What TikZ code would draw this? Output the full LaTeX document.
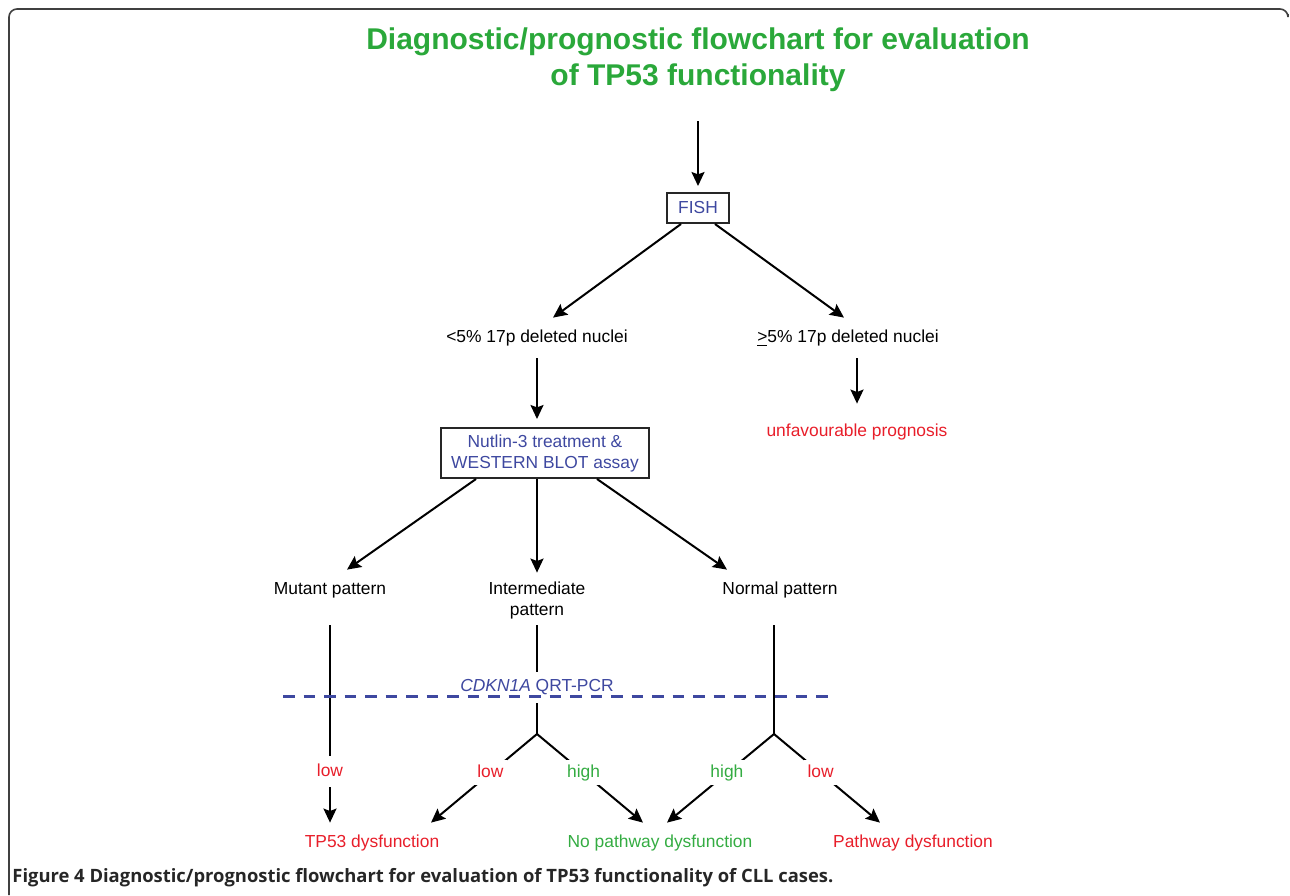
\documentclass[tikz,border=0pt]{standalone}
\usepackage{fontspec}
\setmainfont{Liberation Sans}
\newfontfamily\capfont{Open Sans}
\usetikzlibrary{arrows.meta}
\definecolor{titlegreen}{RGB}{42,168,58}
\definecolor{flowgreen}{RGB}{52,172,66}
\definecolor{flowblue}{RGB}{62,72,160}
\definecolor{flowred}{RGB}{232,30,42}

\begin{document}
\begin{tikzpicture}[x=0.5pt,y=-0.5pt,
	arr/.style={line width=1pt,-{Stealth[length=7pt,width=6.5pt,inset=1.2pt]}},
	ln/.style={line width=1pt},
	box/.style={draw=black!85,line width=1pt,inner sep=0pt,font=\fontsize{8.7}{10.5}\selectfont,text=flowblue,align=center},
	lbl/.style={inner sep=0pt,minimum height=20pt,font=\fontsize{8.7}{10.5}\selectfont,align=center},
	cut/.style={fill=white,inner xsep=2pt,inner ysep=2pt,text height=6.5pt,text depth=2pt,font=\fontsize{8.7}{10.5}\selectfont}]

	\useasboundingbox (0,0) rectangle (1290,895);
	% Frame %
	\draw[black!75,line width=0.8pt,rounded corners=4pt] (9,895) -- (9,9) -- (1288,9) -- (1288,14);
	% Title %
	\node[font=\fontsize{15}{18}\selectfont\bfseries,text=titlegreen,align=center] (title) at (698,60) {Diagnostic/prognostic flowchart for evaluation\\of TP53 functionality};
	% FISH %
	\coordinate (start) at (698,121);
	\node[box,minimum width=31pt,minimum height=15pt] (fish) at (698,208) {FISH};
	\draw[arr,shorten >=3pt] (start) -- (fish.north);
	\node[lbl] (less) at (537,338) {<5\% 17p deleted nuclei};
	\node[lbl] (more) at (848,338) {\underline{>}5\% 17p deleted nuclei};
	\draw[arr] ([xshift=-8.5pt]fish.south) -- ([xshift=8pt]less.north);
	\draw[arr] ([xshift=8.5pt]fish.south) -- ([xshift=-2pt]more.north);
	% Nutlin %
	\node[box,minimum width=104pt,minimum height=25pt] (nutlin) at (545,453) {Nutlin-3 treatment \&\\WESTERN BLOT assay};
	\node[lbl,text=flowred] (unfav) at (857,432) {unfavourable prognosis};
	\draw[arr,shorten >=4pt] (less.south) -- (less.south |- nutlin.north);
	\draw[arr,shorten >=4pt] (more.south -| unfav) -- (unfav.north);
	% Patterns %
	\node[lbl] (mutant) at (330,590) {Mutant pattern};
	\node[lbl] (inter) at (537,600) {Intermediate\\pattern};
	\node[lbl] (normal) at (780,590) {Normal pattern};
	\draw[arr] ([xshift=-34.5pt]nutlin.south) -- ([xshift=8.5pt]mutant.north);
	\draw[arr,shorten >=3.5pt] (inter.north |- nutlin.south) -- (inter.north);
	\draw[arr] ([xshift=26pt]nutlin.south) -- ([xshift=-26.5pt]normal.north);
	% Outcomes %
	\coordinate (qleft) at (283,696);
	\coordinate (qright) at (834,696);
	\coordinate (ibranch) at (537,734);
	\coordinate (nbranch) at (774,734);
	\node[lbl,text=flowred] (tp53) at (372,843) {TP53 dysfunction};
	\node[lbl,text=flowgreen] (nopath) at (660,843) {No pathway dysfunction};
	\node[lbl,text=flowred] (pathdys) at (913,843) {Pathway dysfunction};
	% Mutant %
	\draw[arr,shorten <=7.5pt] (mutant.south) -- node[cut,text=flowred,inner ysep=3.5pt,pos=0.76] {low} (mutant.south |- tp53.north);
	% Intermediate %
	\draw[ln,shorten <=2.5pt] (inter.south) -- (ibranch);
	\node[cut,text=flowblue,minimum height=15.5pt] (qrt) at (537,687) {\textit{CDKN1A} QRT-PCR};
	\draw[flowblue,line width=1.5pt,dash pattern=on 5.75pt off 4.5pt] (qleft) -- (qright);
	\draw[arr] (ibranch) -- node[cut,text=flowred,pos=0.44] {low} ([xshift=29.5pt]tp53.north);
	\draw[arr] (ibranch) -- node[cut,text=flowgreen,pos=0.44] {high} ([xshift=-8.5pt]nopath.north);
	% Normal %
	\draw[ln,shorten <=7.5pt] (normal.south -| nbranch) -- (nbranch);
	\draw[arr] (nbranch) -- node[cut,text=flowgreen,pos=0.44] {high} ([xshift=3.5pt]nopath.north);
	\draw[arr] (nbranch) -- node[cut,text=flowred,pos=0.44] {low} ([xshift=-16.5pt]pathdys.north);
	% Caption %
	\node[anchor=base west,inner sep=0pt,font=\capfont\bfseries\fontsize{9.2}{11}\selectfont,text=black!85] (caption) at (12,882) {Figure 4 Diagnostic/prognostic flowchart for evaluation of TP53 functionality of CLL cases.};
\end{tikzpicture}
\end{document}
